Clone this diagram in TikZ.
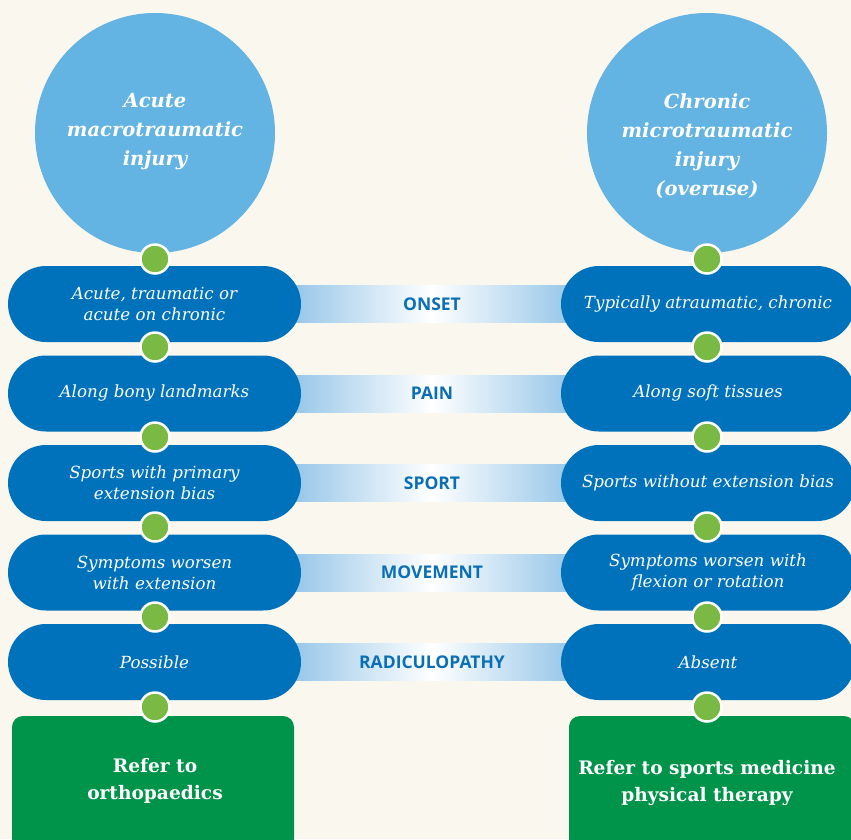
\documentclass[tikz,border=0pt]{standalone}
\usepackage{fontspec}
\setmainfont{DejaVu Serif}
\newfontfamily\labelfont{Open Sans}
\definecolor{bgc}{HTML}{F9F7EE}
\definecolor{circblue}{HTML}{63B3E3}
\definecolor{pillblue}{HTML}{0072BB}
\definecolor{barblue}{HTML}{94C5E8}
\definecolor{dotgreen}{HTML}{7AB943}
\definecolor{boxgreen}{HTML}{00944A}
\definecolor{labblue}{HTML}{0B6FB5}
\tikzset{
  bigcirc/.style={circle, fill=circblue, minimum size=240pt, inner sep=0pt},
  circtext/.style={text=white, align=center, font=\fontsize{19.5}{29}\selectfont\bfseries\itshape, inner sep=0pt},
  pill/.style={rectangle, rounded corners=38pt, fill=pillblue, minimum height=76pt, text=white, align=center, font=\fontsize{16.7}{21}\selectfont\itshape, inner sep=0pt},
  bar/.style={rectangle, left color=barblue, right color=barblue, middle color=white, minimum width=285pt, minimum height=37pt, text=labblue, font=\fontsize{17.5}{18}\selectfont\labelfont\bfseries, inner sep=0pt},
  dot/.style={circle, fill=dotgreen, draw=white, line width=2.5pt, minimum size=29pt, inner sep=0pt},
  gbox/.style={rectangle, rounded corners=11pt, fill=boxgreen, inner sep=0pt},
  gtext/.style={text=white, align=center, font=\fontsize{18.6}{27}\selectfont\bfseries, inner sep=0pt}
}
\begin{document}
\begin{tikzpicture}[x=1pt,y=-1pt]
\fill[bgc] (0,0) rectangle (851,839);
\useasboundingbox (0,0) rectangle (851,839);
% comparison bars
\node[bar] (b1) at (432,304) {ONSET};
\node[bar] (b2) at (432,393.5) {PAIN};
\node[bar] (b3) at (432,483) {SPORT};
\node[bar] (b4) at (432,572.5) {MOVEMENT};
\node[bar] (b5) at (432,662) {RADICULOPATHY};
% circles
\node[bigcirc] (cl) at (155,133) {};
\node[bigcirc] (cr) at (707,133) {};
\node[circtext, anchor=north] (tl) at (155,93) {Acute\\macrotraumatic\\injury};
\node[circtext, anchor=north] (tr) at (707,93) {Chronic\\microtraumatic\\injury\\(overuse)};
% left pills
\node[pill, minimum width=293pt] (l1) at (154.5,304) {Acute, traumatic or\\acute on chronic};
\node[pill, minimum width=293pt] (l2) at (154.5,393.5) {Along bony landmarks};
\node[pill, minimum width=293pt] (l3) at (154.5,483) {Sports with primary\\extension bias};
\node[pill, minimum width=293pt] (l4) at (154.5,572.5) {Symptoms worsen\\with extension};
\node[pill, minimum width=293pt] (l5) at (154.5,662) {Possible};
% right pills
\node[pill, minimum width=294pt] (r1) at (708,304) {Typically atraumatic, chronic};
\node[pill, minimum width=294pt] (r2) at (708,393.5) {Along soft tissues};
\node[pill, minimum width=294pt] (r3) at (708,483) {Sports without extension bias};
\node[pill, minimum width=294pt] (r4) at (708,572.5) {Symptoms worsen with\\flexion or rotation};
\node[pill, minimum width=294pt] (r5) at (708,662) {Absent};
% green boxes
\node[gbox, minimum width=282pt, minimum height=136pt] (gl) at (153,784) {};
\node[gbox, minimum width=286pt, minimum height=136pt] (gr) at (712,784) {};
\node[gtext] (gtl) at (155,781) {Refer to\\orthopaedics};
\node[gtext] (gtr) at (707,783) {Refer to sports medicine\\physical therapy};
% dots
\foreach \y [count=\i] in {259,347,437,527,617,707} {
  \node[dot] (dl\i) at (155,\y) {};
  \node[dot] (dr\i) at (707,\y) {};
}
\end{tikzpicture}
\end{document}
